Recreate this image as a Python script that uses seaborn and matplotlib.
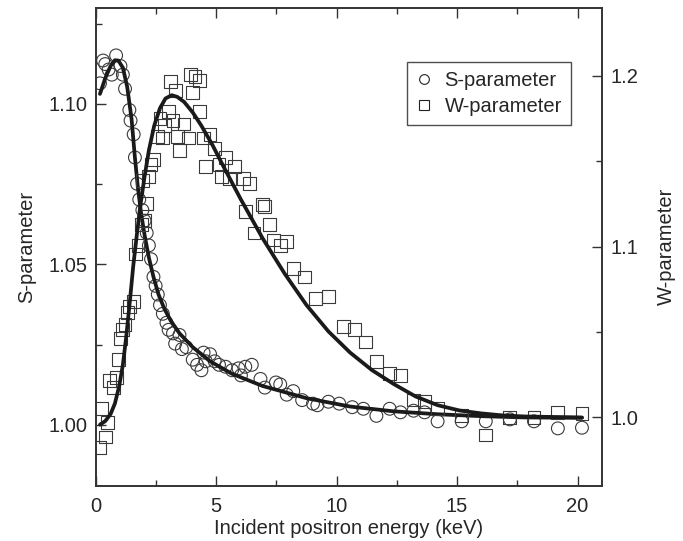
import numpy as np
import pandas as pd
import matplotlib
matplotlib.use("Agg")
import matplotlib.pyplot as plt
from matplotlib.lines import Line2D
from matplotlib.ticker import MultipleLocator, FormatStrFormatter
import seaborn as sns

# S-parameter data (circles)
s_energy = [0.18, 0.31, 0.40, 0.54, 0.67, 0.85, 1.03, 1.13, 1.22, 1.40, 1.45, 1.58, 1.63,
            1.72, 1.81, 1.94, 2.03, 2.12, 2.21, 2.30, 2.40, 2.49, 2.58, 2.67, 2.79, 2.94,
            3.03, 3.21, 3.30, 3.48, 3.58, 3.76, 4.03, 4.21, 4.39, 4.48, 4.57, 4.75, 4.94,
            5.12, 5.39, 5.66, 5.93, 6.03, 6.21, 6.48, 6.84, 7.02, 7.48, 7.66, 7.93, 8.20,
            8.57, 9.02, 9.20, 9.66, 10.11, 10.65, 11.11, 11.65, 12.20, 12.65, 13.19, 13.65,
            14.19, 15.19, 16.19, 17.19, 18.19, 19.18, 20.18]
s_value = [1.1064, 1.1135, 1.1124, 1.1107, 1.1091, 1.1151, 1.1118, 1.1091, 1.1047, 1.0981,
           1.0948, 1.0905, 1.0833, 1.0751, 1.0702, 1.0669, 1.0636, 1.0598, 1.0559, 1.0516,
           1.0461, 1.0433, 1.0406, 1.0373, 1.0346, 1.0318, 1.0296, 1.0285, 1.0253, 1.0280,
           1.0236, 1.0242, 1.0203, 1.0187, 1.0170, 1.0225, 1.0198, 1.0220, 1.0198, 1.0187,
           1.0181, 1.0170, 1.0176, 1.0154, 1.0181, 1.0187, 1.0143, 1.0116, 1.0132, 1.0126,
           1.0094, 1.0105, 1.0077, 1.0066, 1.0061, 1.0072, 1.0066, 1.0055, 1.0050, 1.0028,
           1.0050, 1.0039, 1.0044, 1.0039, 1.0011, 1.0011, 1.0011, 1.0017, 1.0011, 0.9989,
           0.9991]

# W-parameter data (squares)
w_energy = [0.18, 0.25, 0.40, 0.49, 0.58, 0.73, 0.85, 0.94, 1.03, 1.13, 1.22, 1.31, 1.42,
            1.58, 1.67, 1.76, 1.89, 2.03, 2.12, 1.94, 2.21, 2.30, 2.40, 2.58, 2.76, 2.67,
            2.85, 3.03, 3.12, 3.21, 3.30, 3.39, 3.48, 3.67, 3.85, 3.94, 4.12, 4.30, 4.03,
            4.30, 4.48, 4.57, 4.75, 4.94, 5.12, 5.21, 5.39, 5.57, 5.75, 6.12, 6.39, 6.21,
            6.57, 6.93, 7.02, 7.21, 7.39, 7.66, 7.93, 8.20, 8.66, 9.11, 9.66, 10.29, 10.74,
            11.20, 11.65, 12.20, 12.65, 13.19, 13.65, 14.19, 15.19, 16.19, 17.19, 18.19,
            19.18, 20.18]
w_value = [0.9825, 1.0051, 0.9886, 0.9969, 1.0216, 1.0175, 1.0236, 1.0339, 1.0463, 1.0514,
           1.0545, 1.0617, 1.0648, 1.0679, 1.0957, 1.1008, 1.1132, 1.1152, 1.1255, 1.1389,
           1.1409, 1.1481, 1.1512, 1.1646, 1.1636, 1.1749, 1.1708, 1.1790, 1.1965, 1.1739,
           1.1914, 1.1646, 1.1564, 1.1718, 1.1636, 1.2006, 1.1996, 1.1975, 1.1903, 1.1790,
           1.1636, 1.1471, 1.1656, 1.1574, 1.1481, 1.1409, 1.1523, 1.1399, 1.1471, 1.1399,
           1.1368, 1.1204, 1.1080, 1.1245, 1.1234, 1.1132, 1.1039, 1.1008, 1.1029, 1.0874,
           1.0823, 1.0699, 1.0710, 1.0535, 1.0514, 1.0442, 1.0329, 1.0257, 1.0247, 1.0103,
           1.0092, 1.0051, 1.0010, 0.9897, 1.0000, 1.0000, 1.0031, 1.0025]

# fitted curves
s_fit_energy = [0.18, 0.40, 0.62, 0.80, 0.94, 1.13, 1.31, 1.49, 1.63, 1.76, 1.89, 2.03,
                2.21, 2.40, 2.61, 2.85, 3.12, 3.48, 4.03, 4.75, 5.66, 6.93, 8.75, 10.56,
                12.38, 14.19, 16.00, 17.80, 20.18]
s_fit_value = [1.1031, 1.1080, 1.1118, 1.1136, 1.1135, 1.1113, 1.1053, 1.0954, 1.0833,
               1.0735, 1.0658, 1.0592, 1.0521, 1.0461, 1.0406, 1.0362, 1.0324, 1.0285,
               1.0242, 1.0198, 1.0159, 1.0121, 1.0083, 1.0057, 1.0042, 1.0033, 1.0027,
               1.0023, 1.0022]
w_fit_energy = [0.18, 0.40, 0.62, 0.80, 0.98, 1.13, 1.27, 1.42, 1.56, 1.71, 1.85, 2.03,
                2.21, 2.43, 2.67, 2.90, 3.16, 3.39, 3.67, 4.03, 4.39, 4.85, 5.30, 6.03,
                6.93, 7.84, 8.75, 9.66, 10.56, 11.47, 12.38, 13.28, 14.19, 15.10, 16.00,
                16.90, 17.80, 20.18]
w_fit_value = [0.9958, 0.9979, 1.0020, 1.0082, 1.0185, 1.0308, 1.0473, 1.0679, 1.0885,
               1.1070, 1.1234, 1.1409, 1.1564, 1.1708, 1.1811, 1.1868, 1.1887, 1.1877,
               1.1848, 1.1786, 1.1708, 1.1595, 1.1471, 1.1276, 1.1049, 1.0843, 1.0658,
               1.0504, 1.0380, 1.0277, 1.0195, 1.0123, 1.0072, 1.0041, 1.0024, 1.0012,
               1.0006, 1.0000]

s_df = pd.DataFrame({"energy": s_energy, "S": s_value})
w_df = pd.DataFrame({"energy": w_energy, "W": w_value})
s_fit = pd.DataFrame({"energy": s_fit_energy, "S": s_fit_value})
w_fit = pd.DataFrame({"energy": w_fit_energy, "W": w_fit_value})

sns.set_style("ticks")
plt.rcParams["font.family"] = ["Liberation Sans Narrow", "Liberation Sans", "DejaVu Sans"]
fs = 14.5

fig, ax = plt.subplots(figsize=(6.83, 5.41), dpi=100)
fig.subplots_adjust(left=0.140, right=0.881, top=0.986, bottom=0.102)
ax2 = ax.twinx()

mk = dict(facecolor="none", edgecolor="#3a3a3a", linewidth=0.8, s=85, legend=False)
sns.scatterplot(data=s_df, x="energy", y="S", marker="o", ax=ax, zorder=2, **mk)
sns.scatterplot(data=w_df, x="energy", y="W", marker="s", ax=ax2, zorder=2, **mk)
sns.lineplot(data=s_fit, x="energy", y="S", color="#1a1a1a", lw=2.7, ax=ax, zorder=3)
sns.lineplot(data=w_fit, x="energy", y="W", color="#1a1a1a", lw=2.7, ax=ax2, zorder=3)

ax.set_xlim(0, 21)
ax.set_ylim(0.981, 1.130)
ax2.set_ylim(0.960, 1.240)

ax.xaxis.set_major_locator(MultipleLocator(5))
ax.xaxis.set_minor_locator(MultipleLocator(2.5))
ax.yaxis.set_major_locator(MultipleLocator(0.05))
ax.yaxis.set_minor_locator(MultipleLocator(0.025))
ax2.yaxis.set_major_locator(MultipleLocator(0.1))
ax2.yaxis.set_minor_locator(MultipleLocator(0.05))
ax.yaxis.set_major_formatter(FormatStrFormatter("%.2f"))
ax2.yaxis.set_major_formatter(FormatStrFormatter("%.1f"))

ax.tick_params(axis="x", which="both", direction="in", top=True, labelsize=fs, pad=8)
ax.tick_params(axis="y", which="both", direction="in", labelsize=fs, pad=6)
ax2.tick_params(axis="y", which="both", direction="in", labelsize=fs, pad=6)
for a in (ax, ax2):
    a.tick_params(which="major", length=7, width=1, color="#333333")
    a.tick_params(which="minor", length=4.5, width=1, color="#333333")
    for sp in a.spines.values():
        sp.set_linewidth(1.2)
        sp.set_color("#333333")

ax.set_xlabel("Incident positron energy (keV)", fontsize=fs, labelpad=2)
ax.set_ylabel("S-parameter", fontsize=fs, labelpad=9)
ax2.set_ylabel("W-parameter", fontsize=fs, rotation=90, labelpad=14)

handles = [
    Line2D([], [], ls="none", marker="o", ms=7, mfc="none", mec="#222222", mew=0.8, label="S-parameter"),
    Line2D([], [], ls="none", marker="s", ms=7, mfc="none", mec="#222222", mew=0.8, label="W-parameter"),
]
leg = ax2.legend(handles=handles, loc="upper right", bbox_to_anchor=(0.939, 0.886),
                 borderaxespad=0, fontsize=fs, frameon=True, fancybox=False,
                 handlelength=0.8, handletextpad=0.6, borderpad=0.45, labelspacing=0.35)
leg.get_frame().set_edgecolor("#222222")
leg.get_frame().set_linewidth(1.0)

fig.savefig("out.png", dpi=100)
